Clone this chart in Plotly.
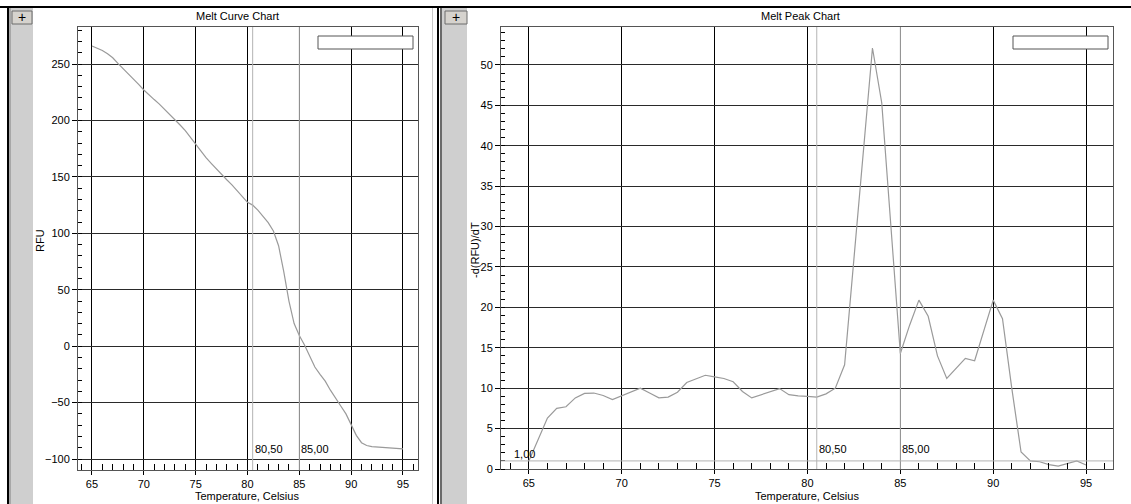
import plotly.graph_objects as go

# ---------------- data ----------------
temps = [65.0 + 0.5 * i for i in range(61)]

rfu = [266, 264, 262, 259, 255.5, 250.5, 246, 241.5, 237, 232,
       227, 222.5, 218.5, 214.5, 210, 205, 200.5, 196, 191, 185,
       178, 172.5, 167, 162, 157, 152, 147.5, 143, 138, 132.5,
       127.5, 125, 120.5, 115, 109.5, 102, 89, 66, 40, 20,
       9.5, 1, -9, -18.5, -25, -31, -39, -45.5, -53, -60,
       -69, -79, -85.5, -88, -89, -89.3, -89.5, -89.7, -90, -90.3,
       -91]

drfu = [1.0, 3.6, 6.3, 7.5, 7.7, 8.8, 9.35, 9.4, 9.1, 8.6,
        9.1, 9.6, 10.0, 9.4, 8.8, 8.9, 9.5, 10.7, 11.2, 11.6,
        11.4, 11.2, 10.8, 9.6, 8.8, 9.2, 9.6, 9.95, 9.2, 9.05,
        9.0, 8.9, 9.3, 10.0, 12.9, 26.0, 39.0, 52.1, 45.3, 29.7,
        14.3, 17.8, 20.9, 18.9, 14.0, 11.2, 12.4, 13.7, 13.4, 17.0,
        20.9, 18.6, 10.0, 2.1, 1.0, 0.9, 0.55, 0.35, 0.65, 1.0,
        0.5]

marker_temps = [80.5, 85.0]
threshold = [1.0]

titles = ["Melt Curve Chart", "Melt Peak Chart"]
y_titles = ["RFU", "-d(RFU)/dT"]
x_title = "Temperature, Celsius"

# ---------------- layout helpers ----------------
W, H = 1131, 504
def px(x):
    return x / W
def py(y):
    return 1 - y / H

FONT = "Liberation Sans, Arial, sans-serif"
LINE_COL = "#9a9a9a"
MARK_COL = "#b4b4b4"

fig = go.Figure()

fig.add_trace(go.Scatter(x=temps, y=rfu, mode="lines", xaxis="x", yaxis="y",
                         line=dict(color=LINE_COL, width=1.2), showlegend=False,
                         hoverinfo="skip"))
fig.add_trace(go.Scatter(x=temps, y=drfu, mode="lines", xaxis="x2", yaxis="y2",
                         line=dict(color=LINE_COL, width=1.2), showlegend=False,
                         hoverinfo="skip"))

L_dom_x = [px(78), px(418)]
L_dom_y = [py(470), py(27)]
R_dom_x = [px(501), px(1113)]
R_dom_y = [py(469), py(27)]

def xaxis(domain, rng, anchor):
    return dict(domain=domain, range=rng, anchor=anchor, automargin=False,
                tickmode="linear", tick0=65, dtick=5,
                showgrid=True, gridcolor="#000000", gridwidth=1,
                zeroline=False, showline=True, linecolor="#555555", linewidth=1,
                mirror=True, ticks="outside", ticklen=4, tickcolor="#000000",
                tickfont=dict(size=11, color="#000000", family=FONT),
                minor=dict(dtick=1, tick0=65, ticks="inside", ticklen=6,
                           tickcolor="#000000", showgrid=False),
                fixedrange=True)

def yaxis(domain, rng, anchor, dtick, tick0, mdtick):
    return dict(domain=domain, range=rng, anchor=anchor, automargin=False,
                tickmode="linear", tick0=tick0, dtick=dtick,
                showgrid=True, gridcolor="#2a2a2a", gridwidth=1,
                zeroline=False, showline=True, linecolor="#555555", linewidth=1,
                mirror=True, ticks="outside", ticklen=5, tickcolor="#000000",
                tickfont=dict(size=11, color="#000000", family=FONT),
                minor=dict(dtick=mdtick, tick0=tick0, ticks="inside", ticklen=4,
                           tickcolor="#000000", showgrid=False),
                fixedrange=True)

fig.update_layout(
    width=W, height=H, autosize=False,
    margin=dict(l=0, r=0, t=0, b=0, pad=0, autoexpand=False),
    paper_bgcolor="#ffffff", plot_bgcolor="#ffffff",
    font=dict(family=FONT, size=11, color="#000000"),
    xaxis=xaxis(L_dom_x, [63.65, 96.45], "y"),
    yaxis=yaxis(L_dom_y, [-109.7, 282.8], "x", 50, -100, 10),
    xaxis2=xaxis(R_dom_x, [63.5, 96.45], "y2"),
    yaxis2=yaxis(R_dom_y, [0, 54.7], "x2", 5, 0, 1),
    showlegend=False,
)

shapes = []
# marker lines
for t in marker_temps:
    shapes.append(dict(type="line", xref="x", yref="y domain", x0=t, x1=t, y0=0, y1=1,
                       line=dict(color=MARK_COL, width=1), layer="above"))
    shapes.append(dict(type="line", xref="x2", yref="y2 domain", x0=t, x1=t, y0=0, y1=1,
                       line=dict(color=MARK_COL, width=1), layer="above"))
for v in threshold:
    shapes.append(dict(type="line", xref="x2 domain", yref="y2", x0=0, x1=1, y0=v, y1=v,
                       line=dict(color=MARK_COL, width=1), layer="above"))

def rect(x0, y0, x1, y1, fill, line=None, lw=0):
    d = dict(type="rect", xref="paper", yref="paper",
             x0=px(x0), x1=px(x1), y0=py(y1), y1=py(y0),
             fillcolor=fill, layer="above")
    d["line"] = dict(color=line, width=lw) if line else dict(width=0)
    return d

# frame decorations
shapes.append(rect(0, 6, W, 8, "#000000"))
shapes.append(rect(7, 8, 9, H, "#000000"))
shapes.append(rect(9, 8, 33, H, "#cfcfcf"))
shapes.append(rect(9, 8, 11, H, "#a8a8a8"))
shapes.append(rect(432, 8, 433, H, "#c8c8c8"))
shapes.append(rect(437, 8, 439, H, "#000000"))
shapes.append(rect(440, 8, 442, H, "#6a6a6a"))
shapes.append(rect(442, 8, 467, H, "#cfcfcf"))
# buttons
shapes.append(rect(12, 11, 32, 24, "#d6d3ce", "#6d6d6d", 1))
shapes.append(rect(445, 11, 467, 24, "#d6d3ce", "#6d6d6d", 1))
# empty legend boxes
shapes.append(rect(318, 36, 413, 49, "#ffffff", "#555555", 1))
shapes.append(rect(1013, 36, 1108, 49, "#ffffff", "#555555", 1))

annotations = []
def txt(text, x, y, size=11, angle=0, xanchor="center", xref="paper", yref="paper"):
    annotations.append(dict(text=text, x=x, y=y, xref=xref, yref=yref,
                            showarrow=False, textangle=angle, xanchor=xanchor,
                            yanchor="middle", font=dict(size=size, family=FONT, color="#000000")))

txt(titles[0], px(237), py(16))
txt(titles[1], px(800), py(16))
txt(y_titles[0], px(40), py(241), angle=-90)
txt(y_titles[1], px(475), py(250), angle=-90)
txt(x_title, px(247), py(496))
txt(x_title, px(807), py(496))
txt("+", px(22), py(17), size=14)
txt("+", px(456), py(17), size=14)

def fmt(v):
    return f"{v:.2f}".replace(".", ",")

for t in marker_temps:
    txt(fmt(t), t, py(449), xanchor="left", xref="x")
    txt(fmt(t), t, py(449), xanchor="left", xref="x2")
for v in threshold:
    txt(fmt(v), px(512), py(454), xanchor="left")

fig.update_layout(shapes=shapes, annotations=annotations)
fig.write_html("out.html", config={"displayModeBar": False, "staticPlot": True},
               post_script="document.body.style.margin='0';document.body.style.overflow='hidden';")
